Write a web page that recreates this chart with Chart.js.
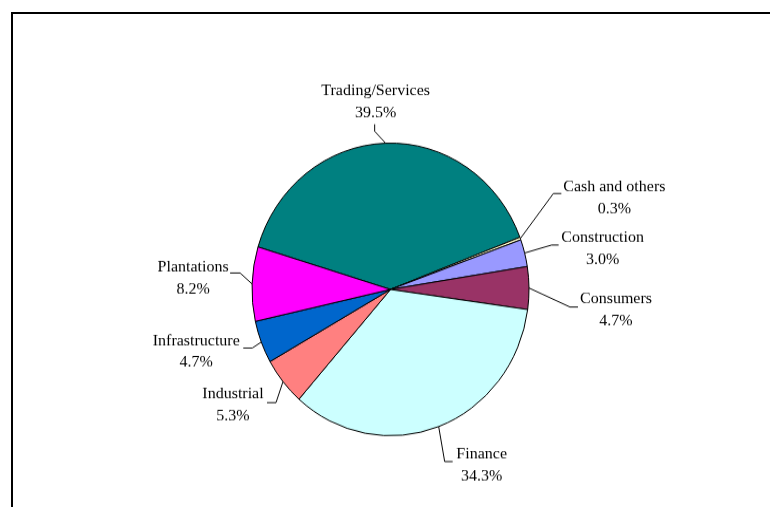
<!DOCTYPE html>
<html>
<head>
<meta charset="utf-8">
<script src="https://cdn.jsdelivr.net/npm/chart.js@4/dist/chart.umd.min.js"></script>
<style>
  html, body { margin: 0; padding: 0; background: #fff; overflow: hidden; }
  body { width: 770px; height: 507px; position: relative; }
  #frame {
    position: absolute; left: 11px; top: 12px; right: 0; bottom: 0;
    border-top: 2px solid #000; border-left: 2px solid #000;
  }
  /* the original pie is a little taller than wide, so stretch the canvas */
  #wrap {
    position: absolute; left: 0; top: 0; width: 770px; height: 480px;
    transform-origin: 0 0; transform: scaleY(1.05625);
  }
</style>
</head>
<body>
<div id="frame"></div>
<div id="wrap"><canvas id="pieChart" width="770" height="480"></canvas></div>
<script>
// Sector breakdown (percent)
const categories = ['Trading/Services', 'Cash and others', 'Construction', 'Consumers',
                    'Finance', 'Industrial', 'Infrastructure', 'Plantations'];
const shares = [39.5, 0.3, 3.0, 4.7, 34.3, 5.3, 4.7, 8.2];
const sliceColors = ['#008080', '#FFFFCC', '#9999FF', '#993366',
                     '#CCFFFF', '#FF8080', '#0066CC', '#FF00FF'];

const K = 507 / 480; // vertical stretch of the canvas

// label layout, offsets from the point where the leader touches the slice
// t = text centre / first baseline, e = elbow, h = end of the leader
const labelOffsets = [
  { t: [-10, -48], e: [-11, -12], h: [-11, -19] },
  { t: [94, -47], e: [33, -45], h: [41, -45] },
  { t: [78, -11], e: [27, -8], h: [34, -8] },
  { t: [87, 15], e: [41, 19], h: [49, 19] },
  { t: [43, 32], e: [6, 35], h: [14, 35] },
  { t: [-50, 17], e: [-7, 21], h: [-16, 21] },
  { t: [-65, 3], e: [-9, 6], h: [-18, 6] },
  { t: [-59, -12], e: [-12, -11], h: [-22, -11] }
];

const outsideLabels = {
  id: 'outsideLabels',
  afterDraw(chart) {
    const ctx = chart.ctx;
    const meta = chart.getDatasetMeta(0);
    ctx.save();
    ctx.scale(1, 1 / K);
    ctx.font = '16px "Liberation Serif", "Times New Roman", serif';
    ctx.fillStyle = '#000';
    ctx.strokeStyle = '#000';
    ctx.lineWidth = 1;
    ctx.textAlign = 'center';
    ctx.textBaseline = 'alphabetic';
    meta.data.forEach((arc, i) => {
      const p = arc.getProps(['x', 'y', 'startAngle', 'endAngle', 'outerRadius'], true);
      const mid = (p.startAngle + p.endAngle) / 2;
      const ax = p.x + p.outerRadius * Math.cos(mid);
      const ay = (p.y + p.outerRadius * Math.sin(mid)) * K;
      const o = labelOffsets[i];
      ctx.beginPath();
      ctx.moveTo(ax, ay);
      ctx.lineTo(ax + o.e[0], ay + o.e[1]);
      ctx.lineTo(ax + o.h[0], ay + o.h[1]);
      ctx.stroke();
      const tx = ax + o.t[0], ty = ay + o.t[1];
      ctx.fillText(categories[i], tx, ty);
      ctx.fillText(shares[i].toFixed(1) + '%', tx, ty + 22);
    });
    ctx.restore();
  }
};

new Chart(document.getElementById('pieChart').getContext('2d'), {
  type: 'pie',
  data: {
    labels: categories,
    datasets: [{
      data: shares,
      backgroundColor: sliceColors,
      borderColor: '#000',
      borderWidth: 1,
      radius: 138.5
    }]
  },
  options: {
    responsive: false,
    animation: false,
    events: [],
    rotation: -73.1,
    layout: { padding: { left: 111, right: 100, top: 120, bottom: 52 } },
    plugins: {
      legend: { display: false },
      tooltip: { enabled: false }
    }
  },
  plugins: [outsideLabels]
});
</script>
</body>
</html>
